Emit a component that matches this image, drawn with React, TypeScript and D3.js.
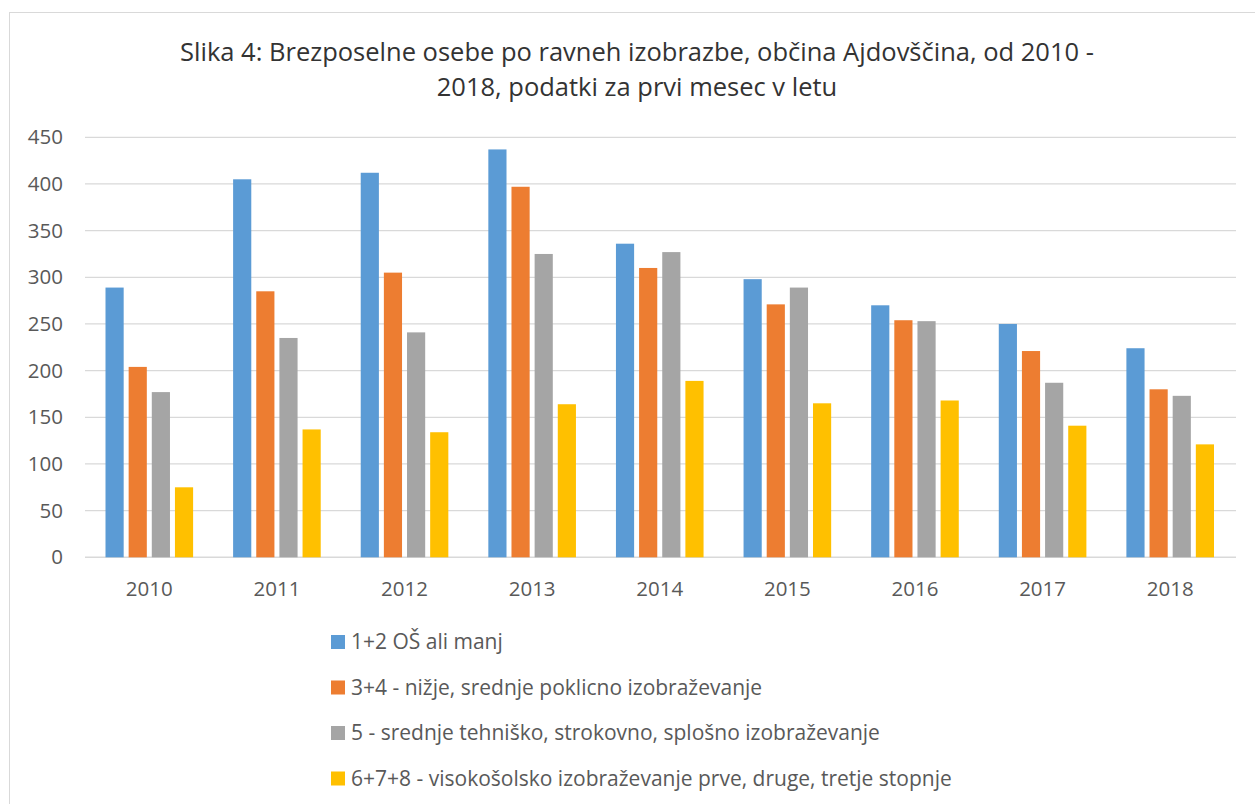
import { useEffect, useRef } from "react";
import * as d3 from "d3";

const years = ["2010", "2011", "2012", "2013", "2014", "2015", "2016", "2017", "2018"];
const seriesNames = [
  "1+2 OŠ ali manj",
  "3+4 - nižje, srednje poklicno izobraževanje",
  "5 - srednje tehniško, strokovno, splošno izobraževanje",
  "6+7+8 - visokošolsko izobraževanje prve, druge, tretje stopnje",
];
const osnovna = [289, 405, 412, 437, 336, 298, 270, 250, 224];
const poklicna = [204, 285, 305, 397, 310, 271, 254, 221, 180];
const srednja = [177, 235, 241, 325, 327, 289, 253, 187, 173];
const visoka = [75, 137, 134, 164, 189, 165, 168, 141, 121];
const yTicks = [0, 50, 100, 150, 200, 250, 300, 350, 400, 450];
const colors = ["#5B9BD5", "#ED7D31", "#A5A5A5", "#FFC000"];

export default function App() {
  const svgRef = useRef<SVGSVGElement>(null);

  useEffect(() => {
    if (!svgRef.current) return;
    const svg = d3.select(svgRef.current);
    svg.selectAll("*").remove();

    const font = "'Open Sans', sans-serif";
    const values = [osnovna, poklicna, srednja, visoka];

    // chart frame
    svg.append("rect")
      .attr("x", 9.5).attr("y", 12.5)
      .attr("width", 1300).attr("height", 850)
      .attr("fill", "#fff").attr("stroke", "#d9d9d9");

    // title
    const title = svg.append("text")
      .attr("text-anchor", "middle")
      .attr("font-family", font)
      .attr("font-size", 25.5)
      .attr("fill", "#333");
    title.append("tspan").attr("x", 637).attr("y", 61)
      .text("Slika 4: Brezposelne osebe po ravneh izobrazbe, občina Ajdovščina, od 2010 -");
    title.append("tspan").attr("x", 637).attr("y", 96)
      .text("2018, podatki za prvi mesec v letu");

    const x0 = d3.scaleBand().domain(years).range([85.5, 1234]);
    const x1 = d3.scaleBand<number>()
      .domain([0, 1, 2, 3])
      .range([20, x0.bandwidth() - 20])
      .paddingInner(0.215);
    const y = d3.scaleLinear().domain([0, 450]).range([557.3, 137.3]);

    // gridlines
    svg.append("g").selectAll("line")
      .data(yTicks)
      .join("line")
      .attr("x1", 85).attr("x2", 1236)
      .attr("y1", d => y(d)).attr("y2", d => y(d))
      .attr("stroke", "#d9d9d9")
      .attr("stroke-width", d => (d === 0 ? 1.6 : 1.3));

    // y labels
    svg.append("g").selectAll("text")
      .data(yTicks)
      .join("text")
      .attr("x", 63)
      .attr("y", d => y(d))
      .attr("dy", "0.35em")
      .attr("text-anchor", "end")
      .attr("font-family", font)
      .attr("font-size", 20.5)
      .attr("fill", "#595959")
      .text(d => d);

    // bars
    const groups = svg.append("g").selectAll("g")
      .data(years)
      .join("g")
      .attr("transform", d => `translate(${x0(d)},0)`);

    groups.selectAll("rect")
      .data((_, i) => values.map((v, s) => ({ s, v: v[i] })))
      .join("rect")
      .attr("x", d => x1(d.s)!)
      .attr("width", x1.bandwidth())
      .attr("y", d => y(d.v))
      .attr("height", d => y(0) - y(d.v))
      .attr("fill", d => colors[d.s]);

    // x labels
    svg.append("g").selectAll("text")
      .data(years)
      .join("text")
      .attr("x", d => x0(d)! + x0.bandwidth() / 2)
      .attr("y", 596)
      .attr("text-anchor", "middle")
      .attr("font-family", font)
      .attr("font-size", 20.5)
      .attr("fill", "#595959")
      .text(d => d);

    // legend
    const legend = svg.append("g").selectAll("g")
      .data(seriesNames)
      .join("g")
      .attr("transform", (_, i) => `translate(331,${642 + i * 45.5})`);
    legend.append("rect")
      .attr("x", 0).attr("y", -7)
      .attr("width", 14).attr("height", 14)
      .attr("fill", (_, i) => colors[i]);
    legend.append("text")
      .attr("x", 20)
      .attr("dy", "0.35em")
      .attr("font-family", font)
      .attr("font-size", 21)
      .attr("fill", "#595959")
      .text(d => d);
  }, []);

  return (
    <svg
      ref={svgRef}
      width={1255}
      height={804}
      style={{ position: "absolute", left: 0, top: 0, display: "block" }}
    />
  );
}
